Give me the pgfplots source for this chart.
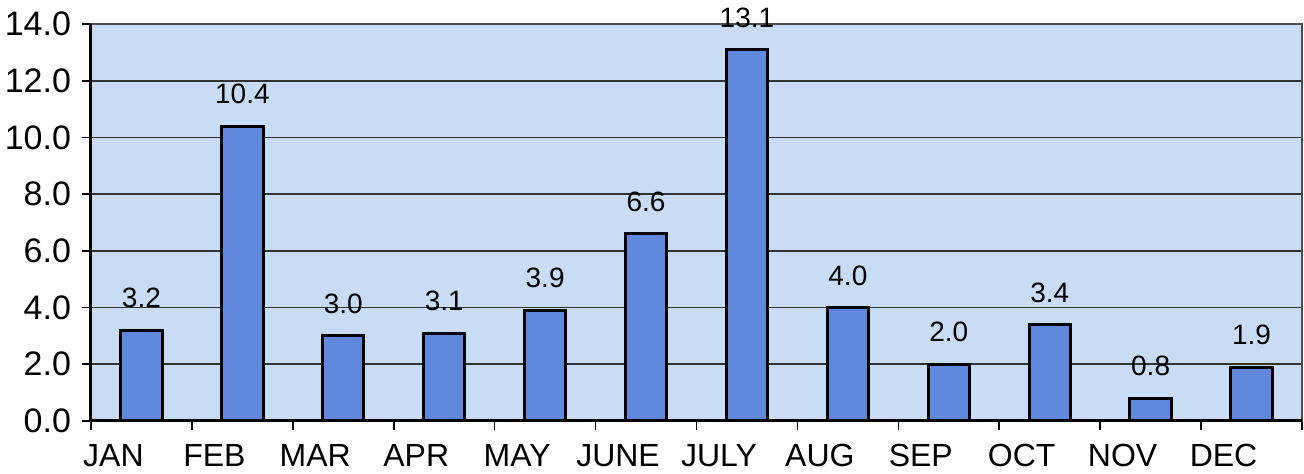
\documentclass[border=0pt]{standalone}
\usepackage{fontspec}
\setmainfont{Liberation Sans}
\usepackage{pgfplots}
\pgfplotsset{compat=1.18}
\definecolor{plotbg}{RGB}{200,220,245}
\definecolor{barblue}{RGB}{96,136,220}
\begin{document}
\begin{tikzpicture}
\path[use as bounding box] (-45.5pt,-26.5pt) rectangle (606.5pt,210.5pt);
\begin{axis}[
    at={(0,0)}, anchor=south west,
    scale only axis,
    width=605.5pt, height=198.5pt,
    xmin=-0.5, xmax=11.5,
    ymin=0, ymax=14,
    ytick={0,2,...,14},
    xtick={-0.5,0.5,...,11.5},
    xticklabels={},
    extra x ticks={0,...,11},
    extra x tick labels={JAN,FEB,MAR,APR,MAY,JUNE,JULY,AUG,SEP,OCT,NOV,DEC},
    extra x tick style={major tick length=0pt,
      xticklabel style={font=\fontsize{16}{16}\selectfont, xshift=-14pt, yshift=-8pt}},
    tick pos=left,
    tick align=outside,
    tick style={black, line width=0.8pt},
    major tick length=4.5pt,
    yticklabel style={font=\fontsize{17}{17}\selectfont, xshift=-2pt},
    /pgf/number format/assume math mode=true,
    yticklabel={\pgfmathprintnumber[fixed,fixed zerofill,precision=1]{\tick}},
    ymajorgrids,
    major grid style={black!80, line width=0.8pt},
    axis background/.style={fill=plotbg},
    axis line style={black!70, line width=1pt},
    ybar, bar width=0.41,
    nodes near coords,
    nodes near coords style={font=\fontsize{14}{14}\selectfont,
      /pgf/number format/fixed, /pgf/number format/fixed zerofill,
      /pgf/number format/precision=1, yshift=7pt},
    clip=false,
]
\addplot[fill=barblue, draw=black, line width=1.5pt] coordinates {
    (0,3.2) (1,10.4) (2,3.0) (3,3.1) (4,3.9) (5,6.6)
    (6,13.1) (7,4.0) (8,2.0) (9,3.4) (10,0.8) (11,1.9)
};
\draw[black, line width=1.5pt] (axis cs:-0.5,0) -- (axis cs:11.5,0);
\draw[black, line width=1.5pt] (axis cs:-0.5,0) -- (axis cs:-0.5,14);
\end{axis}
\end{tikzpicture}
\end{document}
